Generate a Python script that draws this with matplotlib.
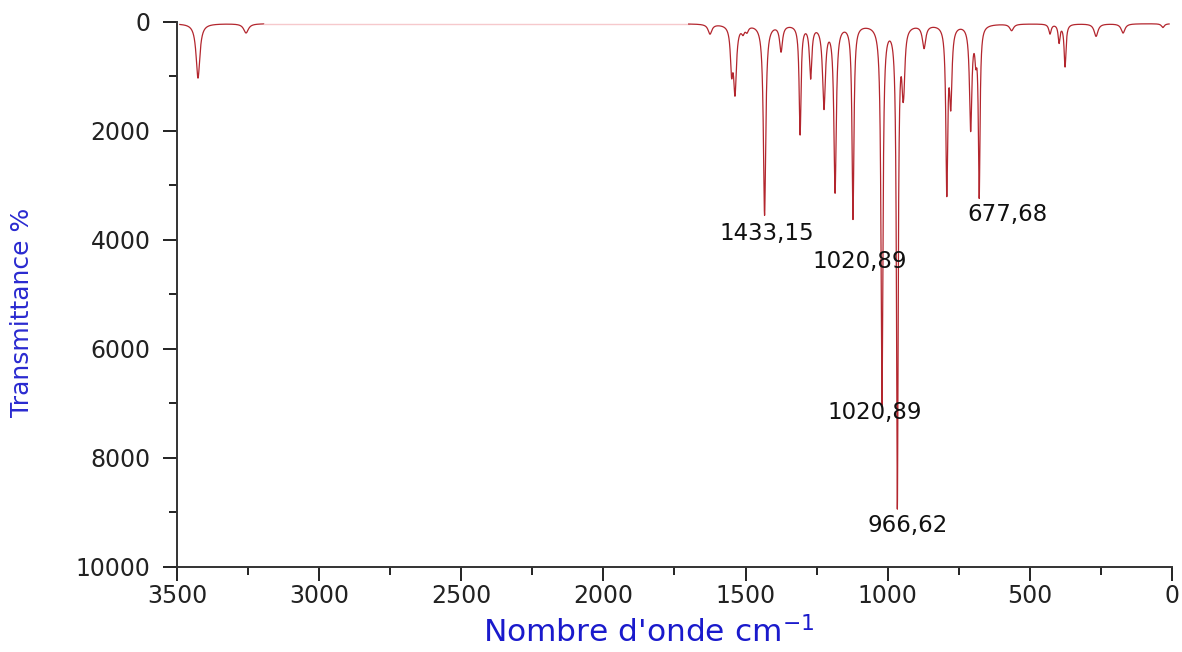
import numpy as np
import matplotlib
matplotlib.use("Agg")
import matplotlib.pyplot as plt
from matplotlib.ticker import MultipleLocator

plt.rcParams['font.family'] = ['DejaVu Sans']
plt.rcParams['mathtext.default'] = 'regular'

# ---- data ----
# peak centres (cm-1), depths (plotted units), half widths (cm-1)
peak_centers = [3426, 3257,
                1625, 1549, 1537, 1509, 1495, 1433, 1375, 1308, 1271, 1224,
                1185, 1122, 1020, 966, 947, 943, 872, 792, 778, 708, 690, 678,
                564, 429, 397, 376, 267, 172, 32]
peak_depths = [1000, 170,
               180, 750, 1200, 120, 100, 3500, 480, 2000, 950, 1500,
               3050, 3550, 6950, 8800, 600, 800, 420, 3000, 1350, 1900, 450, 3100,
               120, 180, 330, 780, 230, 170, 70]
peak_widths = [8, 10,
               8, 5, 6, 6, 6, 5, 6, 4, 5, 6,
               5, 4, 4, 3.5, 4, 5, 7, 4, 5, 5, 4, 3.5,
               8, 5, 4, 4, 8, 8, 6]
baseline = 30

gap_start, gap_end = 3195, 1700   # featureless region drawn pale

labels = ["1433,15", "1020,89", "677,68", "1020,89", "966,62"]
label_x = [1425, 1097, 577, 1045, 929]
label_y = [3880, 4400, 3540, 7170, 9230]

x_ticks = [3500, 3000, 2500, 2000, 1500, 1000, 500, 0]
y_ticks = [0, 2000, 4000, 6000, 8000, 10000]


def spectrum(x):
    y = np.full_like(x, baseline, dtype=float)
    for c, d, g in zip(peak_centers, peak_depths, peak_widths):
        y += d * g**2 / ((x - c) ** 2 + g**2)
    return y


fig = plt.figure(figsize=(11.82, 6.52), dpi=100)
ax = fig.add_axes([0.1497, 0.1304, 0.9915 - 0.1497, 0.9663 - 0.1304])

line_col = '#b3262e'
xa = np.linspace(3490, gap_start, 1500)
xc = np.linspace(gap_end, 10, 12000)
ax.plot(xa, spectrum(xa), color=line_col, lw=0.9)
ax.plot([gap_start, gap_end], [baseline, baseline], color='#f6c9cc', lw=1.0)
ax.plot(xc, spectrum(xc), color=line_col, lw=0.9)

for t, lx, ly in zip(labels, label_x, label_y):
    ax.text(lx, ly, t, ha='center', va='center', fontsize=16.5, color='#111111')

ax.set_xlim(3500, 0)
ax.set_ylim(10000, 0)
ax.set_xticks(x_ticks)
ax.set_yticks(y_ticks)
ax.xaxis.set_minor_locator(MultipleLocator(250))
ax.yaxis.set_minor_locator(MultipleLocator(1000))

for s in ['top', 'right']:
    ax.spines[s].set_visible(False)
for s in ['left', 'bottom']:
    ax.spines[s].set_color('#333333')
    ax.spines[s].set_linewidth(1.4)

ax.tick_params(which='major', direction='out', length=10, width=1.4,
               colors='#222222', labelsize=17)
ax.tick_params(axis='y', which='major', pad=9)
ax.tick_params(axis='x', which='major', pad=2)
ax.tick_params(which='minor', direction='out', length=6, width=1.4,
               colors='#222222')

ax.set_xlabel("Nombre d'onde cm$^{-1}$", color='#1a1acc', fontsize=22.5)
ax.set_ylabel("Transmittance %", color='#2a2ad0', fontsize=18)
ax.xaxis.set_label_coords(0.474, -0.119)
ax.xaxis.label.set_va('center')
ax.yaxis.set_label_coords(-0.156, 0.468)
ax.yaxis.label.set_va('center')

fig.savefig("out.png", dpi=100)
